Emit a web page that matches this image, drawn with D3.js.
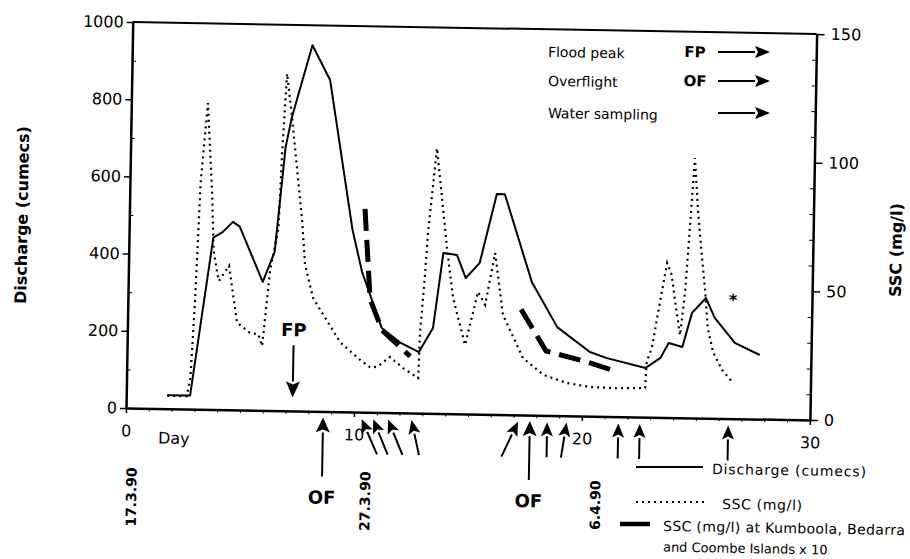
<!DOCTYPE html>
<html>
<head>
<meta charset="utf-8">
<script src="https://cdn.jsdelivr.net/npm/d3@7"></script>
<style>
  body { margin: 0; background: #fff; }
</style>
</head>
<body>
<div id="chart"></div>
<script>
// discharge (cumecs), left axis
const dischargeDays = [1.8, 2.8, 3.7, 4.1, 4.55, 4.85, 5.9, 6.4, 6.8, 7.05, 7.9, 8.7, 9.8, 10.25, 11.15, 12.0, 12.8, 13.4, 13.8, 14.4, 14.8, 15.4, 16.1, 16.45, 17.7, 18.85, 20.3, 21.05, 22.75, 23.4, 23.75, 24.35, 24.75, 25.35, 25.75, 26.65, 27.75];
const dischargeValues = [35, 35, 445, 460, 487, 475, 333, 411, 683, 760, 948, 859, 471, 363, 219, 181, 158, 221, 416, 411, 352, 392, 571, 571, 345, 229, 166, 151, 127, 154, 193, 183, 272, 311, 260, 196, 166];

// SSC (mg/l), right axis
const sscDays = [1.8, 2.65, 2.8, 2.95, 3.1, 3.36, 3.62, 3.72, 3.9, 3.98, 4.41, 4.8, 5.38, 5.75, 5.92, 6.21, 6.55, 6.65, 6.81, 7.06, 7.58, 7.74, 8.12, 9.34, 10.2, 10.7, 11.0, 11.54, 12.12, 12.79, 12.84, 13.01, 13.11, 13.44, 13.96, 14.26, 14.82, 15.35, 15.67, 16.07, 16.46, 17.37, 18.28, 19.32, 20.33, 21.5, 22.75, 22.8, 23.01, 23.41, 23.62, 23.83, 24.0, 24.24, 24.43, 24.54, 24.76, 24.95, 25.15, 25.3, 25.45, 25.7, 26.1, 26.6];
const sscValues = [5, 5, 12, 43, 88, 119, 83, 62, 53, 50, 56, 34, 30, 29.5, 25, 54, 71, 100, 131, 114, 74, 57, 44, 27, 20.5, 17.3, 17.8, 21.6, 17.4, 13.6, 31.6, 53.7, 70, 103, 64, 45, 26.8, 47.5, 42.5, 62.7, 38.7, 22.1, 15.7, 12.7, 11.3, 11, 11.3, 21.5, 26.8, 48.8, 60, 55.4, 45, 32, 49, 65.9, 101, 79, 62, 50, 35, 25.7, 19, 13.8];

// SSC at Kumboola, Bedarra and Coombe Islands x 10 (two sampling runs)
const island1Days = [10.33, 10.62, 11.17, 12.42];
const island1Values = [79, 44, 32, 22];
const island2Days = [17.25, 18.38, 20.18, 21.55];
const island2Values = [41, 25, 21, 17.3];

// events
const floodPeakDay = 7.3;
const overflightDays = [8.65, 17.72];
const samplingDays = [10.34, 10.85, 11.5, 12.53, 17.2, 18.48, 19.33, 21.6, 22.54, 26.42];
const samplingLean = [16, 15, 15, 8, -16, 0, -5, 0, 0, 0];

// axes
const leftTicks = [0, 200, 400, 600, 800, 1000];
const leftMinor = [100, 300, 500, 700, 900];
const rightTicks = [0, 50, 100, 150];
const rightMinor = [10, 20, 30, 40, 60, 70, 80, 90, 110, 120, 130, 140];
const dayTicks = [0, 10, 20, 30];
const dateLabels = ['17.3.90', '27.3.90', '6.4.90'];
const dateDays = [0.3, 10.55, 20.65];

const width = 910;
const height = 559;
const ox = 126;
const oy = 408;
const W = 684;
const H = 386;
const tilt = 1.0; // the scan is slightly rotated
const FONT = '"DejaVu Sans", Verdana, sans-serif';

const rad = tilt * Math.PI / 180;
const loc = (X, Y) => {
  const dx = X - ox;
  const dy = Y - oy;
  return [dx * Math.cos(rad) + dy * Math.sin(rad), -dx * Math.sin(rad) + dy * Math.cos(rad)];
};

const svg = d3.select('#chart')
  .append('svg')
  .attr('width', width)
  .attr('height', height)
  .style('background', '#fff');

const g = svg.append('g')
  .attr('transform', `translate(${ox},${oy}) rotate(${tilt})`)
  .attr('font-family', FONT)
  .attr('fill', '#000');

const x = d3.scaleLinear().domain([0, 30]).range([0, W]);
const yL = d3.scaleLinear().domain([0, 1000]).range([0, -H]);
const yR = d3.scaleLinear().domain([0, 150]).range([0, -H]);

// frame top
g.append('line')
  .attr('x1', x(0)).attr('x2', x(30))
  .attr('y1', yL(1000)).attr('y2', yL(1000))
  .attr('stroke', '#000').attr('stroke-width', 2);

const styleAxis = (sel, size) => {
  sel.attr('font-family', FONT).attr('font-size', size);
  sel.select('.domain').attr('stroke-width', 2.5);
  sel.selectAll('.tick line').attr('stroke-width', 1.5);
};

// left axis
g.append('g')
  .call(d3.axisLeft(yL).tickValues(leftTicks).tickFormat(d3.format('d')).tickSize(6).tickSizeOuter(0).tickPadding(3))
  .call(styleAxis, 16);
g.append('g')
  .call(d3.axisLeft(yL).tickValues(leftMinor).tickSize(-4).tickFormat(''))
  .call((s) => s.select('.domain').remove());

// right axis
g.append('g')
  .attr('transform', `translate(${W},0)`)
  .call(d3.axisRight(yR).tickValues(rightTicks).tickSize(8).tickSizeOuter(0).tickPadding(6))
  .call(styleAxis, 16);
g.append('g')
  .attr('transform', `translate(${W},0)`)
  .call(d3.axisRight(yR).tickValues(rightMinor).tickSize(-4).tickFormat(''))
  .call((s) => s.select('.domain').remove());

// bottom axis
g.append('g')
  .call(d3.axisBottom(x).tickValues(dayTicks).tickSize(5).tickSizeOuter(0).tickPadding(12))
  .call(styleAxis, 16);
g.append('g')
  .call(d3.axisBottom(x).tickValues(d3.range(1, 30)).tickSize(3).tickFormat(''))
  .call((s) => s.select('.domain').remove());

// axis titles
const leftTitle = loc(22, 215);
g.append('text')
  .attr('transform', `translate(${leftTitle[0]},${leftTitle[1]}) rotate(-90)`)
  .attr('text-anchor', 'middle').attr('dy', '0.35em')
  .attr('font-size', 16).attr('font-weight', 'bold')
  .text('Discharge (cumecs)');

const rightTitle = loc(896, 250);
g.append('text')
  .attr('transform', `translate(${rightTitle[0]},${rightTitle[1]}) rotate(-90)`)
  .attr('text-anchor', 'middle').attr('dy', '0.35em')
  .attr('font-size', 16).attr('font-weight', 'bold')
  .text('SSC (mg/l)');

const dayPos = loc(158, 438);
g.append('text')
  .attr('x', dayPos[0]).attr('y', dayPos[1]).attr('dy', '0.35em')
  .attr('font-size', 16)
  .text('Day');

// dates under the axis
g.selectAll('text.date')
  .data(dateLabels)
  .join('text')
  .attr('class', 'date')
  .attr('transform', (d, i) => `translate(${x(dateDays[i])},89) rotate(-90)`)
  .attr('text-anchor', 'middle').attr('dy', '0.35em')
  .attr('font-size', 14).attr('font-weight', 'bold')
  .text((d) => d);

// series
const lineQ = d3.line().x((d) => x(d[0])).y((d) => yL(d[1]));
const lineS = d3.line().x((d) => x(d[0])).y((d) => yR(d[1]));

g.append('path')
  .datum(d3.zip(sscDays, sscValues))
  .attr('d', lineS)
  .attr('fill', 'none')
  .attr('stroke', '#000')
  .attr('stroke-width', 2.2)
  .attr('stroke-dasharray', '2,4');

g.append('path')
  .datum(d3.zip(dischargeDays, dischargeValues))
  .attr('d', lineQ)
  .attr('fill', 'none')
  .attr('stroke', '#000')
  .attr('stroke-width', 2)
  .attr('stroke-linejoin', 'round');

[d3.zip(island1Days, island1Values), d3.zip(island2Days, island2Values)].forEach((seg) => {
  g.append('path')
    .datum(seg)
    .attr('d', lineS)
    .attr('fill', 'none')
    .attr('stroke', '#000')
    .attr('stroke-width', 5)
    .attr('stroke-dasharray', '22,9');
});

// arrows
const arrow = (tail, tip, len = 15, half = 6) => {
  const dx = tip[0] - tail[0];
  const dy = tip[1] - tail[1];
  const l = Math.hypot(dx, dy);
  const ux = dx / l;
  const uy = dy / l;
  const bx = tip[0] - ux * len;
  const by = tip[1] - uy * len;
  const nx = bx + ux * 3;
  const ny = by + uy * 3;
  g.append('line')
    .attr('x1', tail[0]).attr('y1', tail[1])
    .attr('x2', bx).attr('y2', by)
    .attr('stroke', '#000').attr('stroke-width', 2);
  g.append('path')
    .attr('d', `M${tip[0]},${tip[1]}L${bx - uy * half},${by + ux * half}L${nx},${ny}L${bx + uy * half},${by - ux * half}Z`)
    .attr('fill', '#000');
};

samplingDays.forEach((d, i) => {
  arrow([x(d) + samplingLean[i], 42], [x(d), 7], 14, 6);
});
overflightDays.forEach((d) => {
  arrow([x(d), 65], [x(d), 6], 15, 7);
  g.append('text')
    .attr('x', x(d)).attr('y', 86).attr('dy', '0.35em')
    .attr('text-anchor', 'middle')
    .attr('font-size', 18).attr('font-weight', 'bold')
    .text('OF');
});
arrow([x(floodPeakDay), yL(170)], [x(floodPeakDay), yL(35)], 16, 7);
g.append('text')
  .attr('x', x(floodPeakDay)).attr('y', yL(210)).attr('dy', '0.35em')
  .attr('text-anchor', 'middle')
  .attr('font-size', 18).attr('font-weight', 'bold')
  .text('FP');

const star = loc(733, 300);
g.append('text')
  .attr('x', star[0]).attr('y', star[1]).attr('dy', '0.35em')
  .attr('text-anchor', 'middle')
  .attr('font-size', 16).attr('font-weight', 'bold')
  .text('*');

// key, top right
const keyRows = [
  { label: 'Flood peak', code: 'FP', y: 52 },
  { label: 'Overflight', code: 'OF', y: 81 },
  { label: 'Water sampling', code: '', y: 113 },
];
keyRows.forEach((r) => {
  const p = loc(548, r.y);
  g.append('text')
    .attr('x', p[0]).attr('y', p[1]).attr('dy', '0.35em')
    .attr('font-size', 14)
    .text(r.label);
  if (r.code) {
    const c = loc(695, r.y);
    g.append('text')
      .attr('x', c[0]).attr('y', c[1]).attr('dy', '0.35em')
      .attr('text-anchor', 'middle')
      .attr('font-size', 15).attr('font-weight', 'bold')
      .text(r.code);
  }
  arrow(loc(718, r.y), loc(770, r.y), 15, 6);
});

// legend, bottom right
const legendRows = [
  { y: 467, x1: 636, x2: 703, tx: 712, dash: null, w: 2, text: ['Discharge (cumecs)'], len: [154] },
  { y: 502, x1: 636, x2: 706, tx: 722, dash: '2,4', w: 2.2, text: ['SSC (mg/l)'], len: [80] },
  { y: 524, x1: 620, x2: 650, tx: 663, dash: null, w: 4.5, text: ['SSC (mg/l) at Kumboola, Bedarra', 'and Coombe Islands x 10'], len: [242, null] },
];
legendRows.forEach((r) => {
  const a = loc(r.x1, r.y);
  const b = loc(r.x2, r.y);
  g.append('line')
    .attr('x1', a[0]).attr('y1', a[1]).attr('x2', b[0]).attr('y2', b[1])
    .attr('stroke', '#000').attr('stroke-width', r.w)
    .attr('stroke-dasharray', r.dash);
  r.text.forEach((t, i) => {
    const p = loc(r.tx, r.y + 2 + i * 21);
    const txt = g.append('text')
      .attr('x', p[0]).attr('y', p[1]).attr('dy', '0.35em')
      .attr('font-size', r.len[i] ? 14 : 13)
      .text(t);
    if (r.len[i]) {
      txt.attr('textLength', r.len[i]).attr('lengthAdjust', 'spacing');
    }
  });
});
</script>
</body>
</html>
